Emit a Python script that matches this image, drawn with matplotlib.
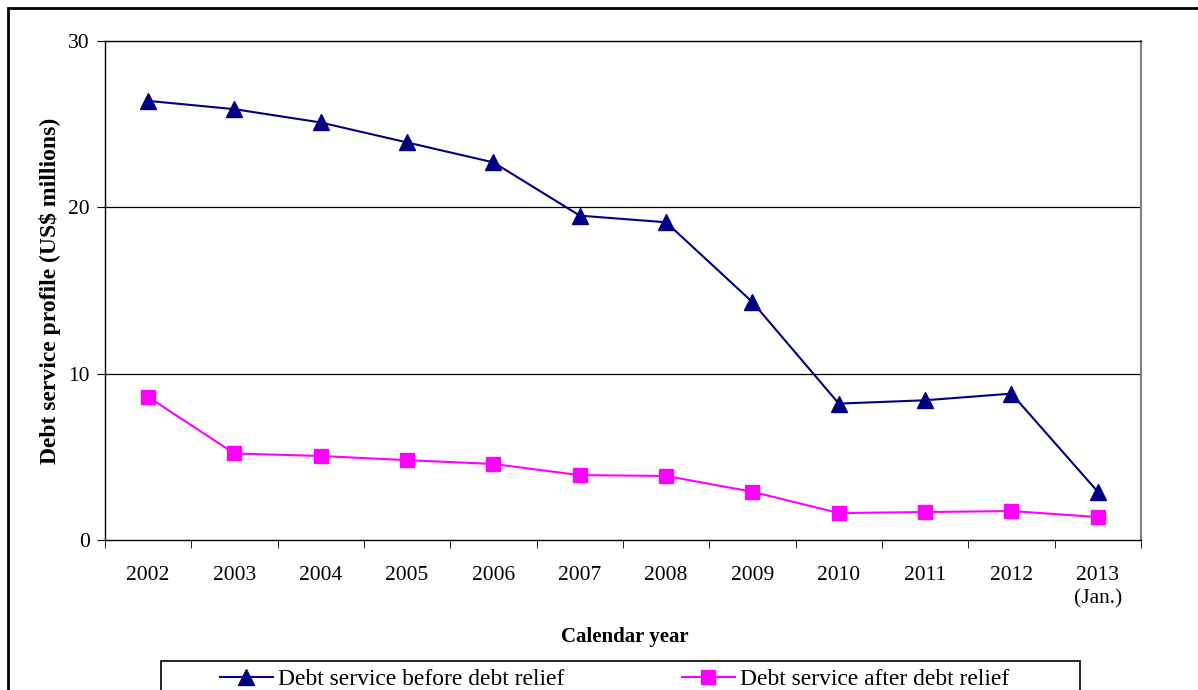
import matplotlib
matplotlib.use("Agg")
import matplotlib.pyplot as plt
from matplotlib.patches import Rectangle
from matplotlib.lines import Line2D

plt.rcParams['font.family'] = ['Liberation Serif', 'DejaVu Serif']

years = ["2002", "2003", "2004", "2005", "2006", "2007", "2008", "2009",
         "2010", "2011", "2012", "2013\n(Jan.)"]
before_relief = [26.4, 25.9, 25.1, 23.9, 22.7, 19.5, 19.1, 14.3, 8.2, 8.4, 8.8, 2.9]
after_relief = [8.6, 5.2, 5.05, 4.8, 4.57, 3.9, 3.85, 2.9, 1.62, 1.68, 1.74, 1.38]

fig = plt.figure(figsize=(11.98, 6.9), dpi=100)
ax = fig.add_axes([0.0876, 0.2174, 0.8648, 0.7232])

x = range(len(years))
ax.plot(x, before_relief, color="#000080", lw=1.5, marker="^", ms=11, zorder=3)
ax.plot(x, after_relief, color="#FF00FF", lw=1.5, marker="s", ms=9.5, zorder=3)

ax.set_xlim(-0.5, len(years) - 0.5)
ax.set_ylim(0, 30)
ax.set_yticks([0, 10, 20, 30])
ax.tick_params(axis="y", labelsize=15.5, length=6, direction="out", pad=5)
for v in [10, 20]:
    ax.axhline(v, color="black", lw=0.9, zorder=1)

# category labels at centres, tick marks on the boundaries
ax.set_xticks(list(x))
ax.set_xticklabels(years)
ax.tick_params(axis="x", which="major", length=0, labelsize=15.5, pad=18.5)
for lab in ax.get_xticklabels():
    lab.set_linespacing(1.35)
ax.set_xticks([i - 0.5 for i in range(len(years) + 1)], minor=True)
ax.tick_params(axis="x", which="minor", length=6, direction="out")

for s in ["left", "bottom", "top"]:
    ax.spines[s].set_color("black")
    ax.spines[s].set_linewidth(1.0)
ax.spines["right"].set_color("#808080")
ax.spines["right"].set_linewidth(1.5)

ax.set_ylabel("Debt service profile (US$ millions)", fontsize=17, fontweight="bold", labelpad=5)
fig.text(625 / 1198, 1 - 637 / 690, "Calendar year", ha="center", va="center",
         fontsize=15, fontweight="bold")

# outer frame running off the picture
fig.patches.append(Rectangle((8 / 1198, -0.05), 1.2, 1 - 8 / 690 + 0.05,
                             transform=fig.transFigure, fill=False,
                             edgecolor="black", lw=2))
# legend box
fig.patches.append(Rectangle((161 / 1198, -0.05), 919 / 1198, 1 - 661 / 690 + 0.05,
                             transform=fig.transFigure, fill=False,
                             edgecolor="black", lw=1.2))
handles = [
    Line2D([], [], color="#000080", lw=1.5, marker="^", ms=11),
    Line2D([], [], color="#FF00FF", lw=1.5, marker="s", ms=9.5),
]
fig.legend(handles, ["Debt service before debt relief", "Debt service after debt relief"],
           loc="center left", bbox_to_anchor=(220 / 1198, 1 - 679 / 690), ncol=2,
           frameon=False, borderpad=0, borderaxespad=0,
           fontsize=16.9, handlelength=2.25, handletextpad=0.22, columnspacing=5.0)

fig.savefig("out.png", dpi=100)
